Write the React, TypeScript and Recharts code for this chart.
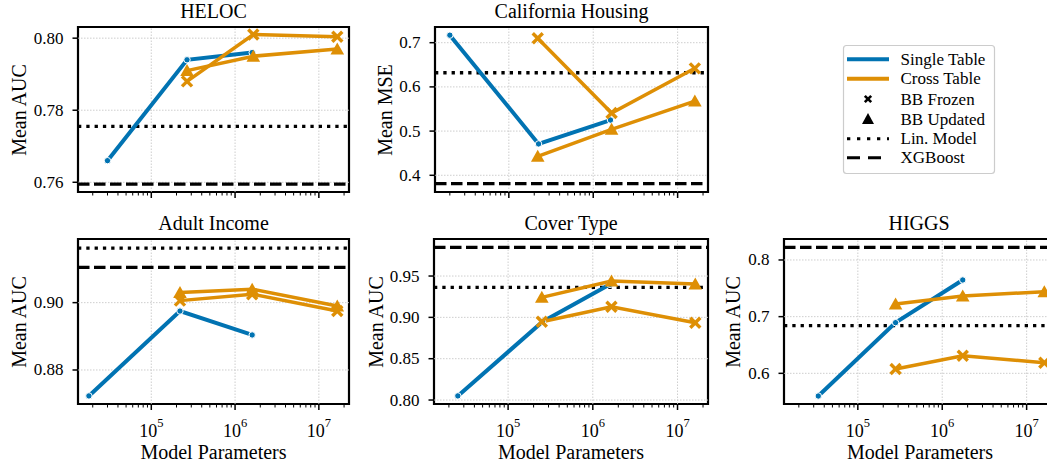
import React from 'react';
import { LineChart, Line, XAxis, YAxis, ReferenceLine, ReferenceArea } from 'recharts';

const BLUE = '#0173b2';
const ORANGE = '#de8f05';
const FONT = '"Liberation Serif", "DejaVu Serif", serif';

// x axis: model parameters, log scale shared by every panel
const X_DOMAIN: [number, number] = [1.334e4, 2.29e7];
const MAJOR_X = [1e5, 1e6, 1e7];
const MAJOR_X_EXP = ['5', '6', '7'];
const MINOR_X = [
  2e4, 3e4, 4e4, 5e4, 6e4, 7e4, 8e4, 9e4,
  2e5, 3e5, 4e5, 5e5, 6e5, 7e5, 8e5, 9e5,
  2e6, 3e6, 4e6, 5e6, 6e6, 7e6, 8e6, 9e6,
  2e7,
];

// HELOC
const helocSingleX = [3.0e4, 2.67e5, 1.6e6];
const helocSingleY = [0.766, 0.794, 0.796];
const helocCrossX = [2.67e5, 1.65e6, 1.66e7];
const helocFrozenY = [0.788, 0.801, 0.8004];
const helocUpdatedY = [0.791, 0.795, 0.797];
const helocLin = 0.7755;
const helocXgb = 0.7595;
const helocYTicks = [0.76, 0.78, 0.8];

// California Housing
const calSingleX = [2.0e4, 2.25e5, 1.6e6];
const calSingleY = [0.717, 0.471, 0.525];
const calCrossX = [2.2e5, 1.65e6, 1.6e7];
const calFrozenY = [0.71, 0.541, 0.642];
const calUpdatedY = [0.443, 0.504, 0.568];
const calLin = 0.632;
const calXgb = 0.381;
const calYTicks = [0.4, 0.5, 0.6, 0.7];

// Adult Income
const adultSingleX = [1.8e4, 2.2e5, 1.6e6];
const adultSingleY = [0.8723, 0.8975, 0.8904];
const adultCrossX = [2.2e5, 1.6e6, 1.66e7];
const adultFrozenY = [0.9006, 0.9025, 0.8975];
const adultUpdatedY = [0.903, 0.904, 0.899];
const adultLin = 0.9162;
const adultXgb = 0.9105;
const adultYTicks = [0.88, 0.9];

// Cover Type
const coverSingleX = [2.55e4, 2.55e5, 1.6e6];
const coverSingleY = [0.805, 0.8947, 0.94];
const coverCrossX = [2.5e5, 1.66e6, 1.62e7];
const coverFrozenY = [0.8947, 0.9128, 0.8935];
const coverUpdatedY = [0.9242, 0.944, 0.9403];
const coverLin = 0.9363;
const coverXgb = 0.9847;
const coverYTicks = [0.8, 0.85, 0.9, 0.95];

// HIGGS
const higgsSingleX = [3.4e4, 2.8e5, 1.75e6];
const higgsSingleY = [0.56, 0.6894, 0.7647];
const higgsCrossX = [2.8e5, 1.75e6, 1.62e7];
const higgsFrozenY = [0.6076, 0.631, 0.6187];
const higgsUpdatedY = [0.7224, 0.7365, 0.744];
const higgsLin = 0.684;
const higgsXgb = 0.8224;
const higgsYTicks = [0.6, 0.7, 0.8];

const toPts = (xs: number[], ys: number[]) => xs.map((x, i) => ({ x, y: ys[i] }));

const X_TICKS = [...MAJOR_X, ...MINOR_X].sort((a, b) => a - b);

const ML = 60;
const MT = 8;
const MR = 14;
const MB = 40;

function XTick(props: any) {
  const { x, y, payload, showLabel } = props;
  const idx = MAJOR_X.indexOf(payload.value);
  const major = idx >= 0;
  return (
    <g>
      <line x1={x} x2={x} y1={y} y2={y + (major ? 6 : 3.5)} stroke="#000" strokeWidth={major ? 1.5 : 1} />
      {major && showLabel && (
        <text x={x} y={y + 33} textAnchor="middle" fontFamily={FONT} fontSize={18} fill="#000">
          10<tspan fontSize={12.5} dy={-10}>{MAJOR_X_EXP[idx]}</tspan>
        </text>
      )}
    </g>
  );
}

function YTick(props: any) {
  const { x, y, payload, decimals } = props;
  return (
    <g>
      <line x1={x - 5.5} x2={x} y1={y} y2={y} stroke="#000" strokeWidth={1.5} />
      <text x={x - 14.5} y={y} textAnchor="end" dominantBaseline="central" fontFamily={FONT} fontSize={17} fill="#000">
        {Number(payload.value).toFixed(decimals)}
      </text>
    </g>
  );
}

const circleDot = (p: any) => (
  <circle key={`c${p.index}`} cx={p.cx} cy={p.cy} r={3.2} fill={BLUE} stroke="#fff" strokeWidth={1} />
);
const crossDot = (p: any) => (
  <g key={`x${p.index}`}>
    <line x1={p.cx - 5} y1={p.cy - 5} x2={p.cx + 5} y2={p.cy + 5} stroke={ORANGE} strokeWidth={3.4} />
    <line x1={p.cx - 5} y1={p.cy + 5} x2={p.cx + 5} y2={p.cy - 5} stroke={ORANGE} strokeWidth={3.4} />
  </g>
);
const triDot = (p: any) => (
  <path
    key={`t${p.index}`}
    d={`M${p.cx},${p.cy - 6.5} L${p.cx + 6.8},${p.cy + 5.5} L${p.cx - 6.8},${p.cy + 5.5} Z`}
    fill={ORANGE}
  />
);

interface PanelProps {
  left: number;
  top: number;
  w: number;
  h: number;
  yDomain: [number, number];
  yTicks: number[];
  decimals: number;
  singleX: number[];
  singleY: number[];
  crossX: number[];
  frozenY: number[];
  updatedY: number[];
  lin: number;
  xgb: number;
  showX: boolean;
}

function Panel(p: PanelProps) {
  const grid = '#c8c8c8';
  return (
    <div style={{ position: 'absolute', left: p.left - ML, top: p.top - MT }}>
      <LineChart width={p.w + ML + MR} height={p.h + MT + MB} margin={{ top: MT, right: MR, left: 0, bottom: 0 }}>
        <XAxis
          dataKey="x"
          type="number"
          scale="log"
          domain={X_DOMAIN}
          allowDataOverflow
          ticks={X_TICKS}
          interval={0}
          height={MB}
          axisLine={false}
          tickLine={false}
          tickSize={0}
          tickMargin={0}
          tick={(tp: any) => <XTick {...tp} showLabel={p.showX} />}
        />
        <YAxis
          type="number"
          domain={p.yDomain}
          allowDataOverflow
          ticks={p.yTicks}
          interval={0}
          width={ML}
          axisLine={false}
          tickLine={false}
          tickSize={0}
          tickMargin={0}
          tick={(tp: any) => <YTick {...tp} decimals={p.decimals} />}
        />
        {MAJOR_X.map((v) => (
          <ReferenceLine key={`gx${v}`} x={v} stroke={grid} strokeWidth={0.9} strokeDasharray="1.5 1.5" />
        ))}
        {p.yTicks.map((v) => (
          <ReferenceLine key={`gy${v}`} y={v} stroke={grid} strokeWidth={0.9} strokeDasharray="1.5 1.5" />
        ))}
        <ReferenceLine y={p.lin} stroke="#000" strokeWidth={3.3} strokeDasharray="3.3 5" />
        <ReferenceLine y={p.xgb} stroke="#000" strokeWidth={3.3} strokeDasharray="11.5 4.5" />
        <Line
          data={toPts(p.singleX, p.singleY)}
          dataKey="y"
          type="linear"
          stroke={BLUE}
          strokeWidth={4}
          dot={circleDot}
          activeDot={false}
          isAnimationActive={false}
        />
        <Line
          data={toPts(p.crossX, p.frozenY)}
          dataKey="y"
          type="linear"
          stroke={ORANGE}
          strokeWidth={3.5}
          dot={crossDot}
          activeDot={false}
          isAnimationActive={false}
        />
        <Line
          data={toPts(p.crossX, p.updatedY)}
          dataKey="y"
          type="linear"
          stroke={ORANGE}
          strokeWidth={3.5}
          dot={triDot}
          activeDot={false}
          isAnimationActive={false}
        />
        <ReferenceArea
          x1={X_DOMAIN[0]}
          x2={X_DOMAIN[1]}
          y1={p.yDomain[0]}
          y2={p.yDomain[1]}
          fill="none"
          fillOpacity={0}
          stroke="#000"
          strokeWidth={2.2}
          ifOverflow="visible"
        />
      </LineChart>
    </div>
  );
}

function Texts() {
  const t = { fontFamily: FONT, fill: '#000' } as const;
  const titles = [
    { s: 'HELOC', x: 213.5, y: 18 },
    { s: 'California Housing', x: 571.5, y: 18 },
    { s: 'Adult Income', x: 213.5, y: 229.5 },
    { s: 'Cover Type', x: 571, y: 229.5 },
    { s: 'HIGGS', x: 919, y: 229.5 },
  ];
  const yLabels = [
    { s: 'Mean AUC', x: 19, y: 110 },
    { s: 'Mean MSE', x: 385, y: 110 },
    { s: 'Mean AUC', x: 19, y: 322 },
    { s: 'Mean AUC', x: 376, y: 322 },
    { s: 'Mean AUC', x: 733, y: 322 },
  ];
  const xLabels = [213.5, 571, 920];
  const lx = 847;
  const lw = 42;
  const rows = [59.3, 78.8, 99, 119, 138.7, 157.8];
  const names = ['Single Table', 'Cross Table', 'BB Frozen', 'BB Updated', 'Lin. Model', 'XGBoost'];
  return (
    <svg width={1047} height={463} style={{ position: 'absolute', left: 0, top: 0, pointerEvents: 'none' }}>
      {titles.map((d) => (
        <text key={d.s + d.y} x={d.x} y={d.y} textAnchor="middle" fontSize={20} {...t}>
          {d.s}
        </text>
      ))}
      {yLabels.map((d) => (
        <text
          key={d.s + d.x + d.y}
          x={d.x}
          y={d.y}
          textAnchor="middle"
          dominantBaseline="central"
          fontSize={20}
          transform={`rotate(-90 ${d.x} ${d.y})`}
          {...t}
        >
          {d.s}
        </text>
      ))}
      {xLabels.map((x) => (
        <text key={`xl${x}`} x={x} y={458.5} textAnchor="middle" fontSize={20} {...t}>
          Model Parameters
        </text>
      ))}
      <rect x={843.5} y={45.5} width={151} height={128} rx={3} fill="#fff" fillOpacity={0.85} stroke="#cccccc" strokeWidth={1.2} />
      <line x1={lx} x2={lx + lw} y1={rows[0]} y2={rows[0]} stroke={BLUE} strokeWidth={4} />
      <line x1={lx} x2={lx + lw} y1={rows[1]} y2={rows[1]} stroke={ORANGE} strokeWidth={4} />
      <line x1={lx + 21 - 3.2} y1={rows[2] - 3.2} x2={lx + 21 + 3.2} y2={rows[2] + 3.2} stroke="#000" strokeWidth={2.6} />
      <line x1={lx + 21 - 3.2} y1={rows[2] + 3.2} x2={lx + 21 + 3.2} y2={rows[2] - 3.2} stroke="#000" strokeWidth={2.6} />
      <path d={`M${lx + 21},${rows[3] - 6} L${lx + 27},${rows[3] + 5} L${lx + 15},${rows[3] + 5} Z`} fill="#000" />
      <line x1={lx} x2={lx + lw} y1={rows[4]} y2={rows[4]} stroke="#000" strokeWidth={3} strokeDasharray="3.3 6.7" />
      <line x1={lx} x2={lx + lw} y1={rows[5]} y2={rows[5]} stroke="#000" strokeWidth={3} strokeDasharray="13 8" />
      {names.map((n, i) => (
        <text key={n} x={900.5} y={rows[i]} dominantBaseline="central" fontSize={17} {...t}>
          {n}
        </text>
      ))}
    </svg>
  );
}

export default function App() {
  return (
    <div style={{ position: 'absolute', left: 0, top: 0, width: 1047, height: 463, overflow: 'hidden', background: '#fff' }}>
      <Panel
        left={78}
        top={27}
        w={271}
        h={165}
        yDomain={[0.7573, 0.8031]}
        yTicks={helocYTicks}
        decimals={2}
        singleX={helocSingleX}
        singleY={helocSingleY}
        crossX={helocCrossX}
        frozenY={helocFrozenY}
        updatedY={helocUpdatedY}
        lin={helocLin}
        xgb={helocXgb}
        showX={false}
      />
      <Panel
        left={435}
        top={27}
        w={273}
        h={165}
        yDomain={[0.3622, 0.7355]}
        yTicks={calYTicks}
        decimals={1}
        singleX={calSingleX}
        singleY={calSingleY}
        crossX={calCrossX}
        frozenY={calFrozenY}
        updatedY={calUpdatedY}
        lin={calLin}
        xgb={calXgb}
        showX={false}
      />
      <Panel
        left={78}
        top={239}
        w={271}
        h={165}
        yDomain={[0.8699, 0.9189]}
        yTicks={adultYTicks}
        decimals={2}
        singleX={adultSingleX}
        singleY={adultSingleY}
        crossX={adultCrossX}
        frozenY={adultFrozenY}
        updatedY={adultUpdatedY}
        lin={adultLin}
        xgb={adultXgb}
        showX={true}
      />
      <Panel
        left={434}
        top={239}
        w={274}
        h={165}
        yDomain={[0.7952, 0.9948]}
        yTicks={coverYTicks}
        decimals={2}
        singleX={coverSingleX}
        singleY={coverSingleY}
        crossX={coverCrossX}
        frozenY={coverFrozenY}
        updatedY={coverUpdatedY}
        lin={coverLin}
        xgb={coverXgb}
        showX={true}
      />
      <Panel
        left={784}
        top={239}
        w={273}
        h={165}
        yDomain={[0.5459, 0.837]}
        yTicks={higgsYTicks}
        decimals={1}
        singleX={higgsSingleX}
        singleY={higgsSingleY}
        crossX={higgsCrossX}
        frozenY={higgsFrozenY}
        updatedY={higgsUpdatedY}
        lin={higgsLin}
        xgb={higgsXgb}
        showX={true}
      />
      <Texts />
    </div>
  );
}
